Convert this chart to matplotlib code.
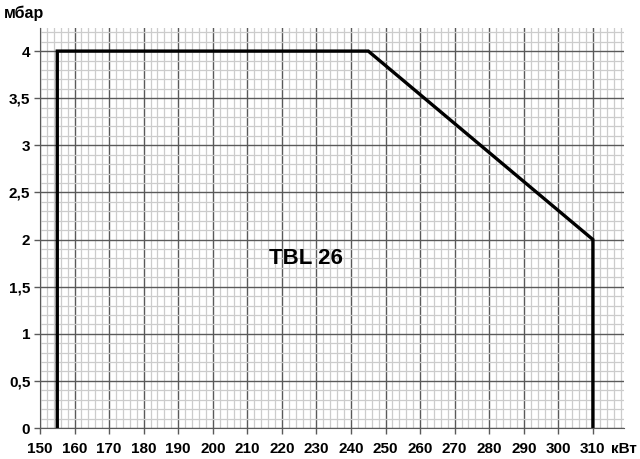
import matplotlib.pyplot as plt
from matplotlib.ticker import MultipleLocator, FuncFormatter

plt.rcParams['font.family'] = ['Liberation Sans', 'DejaVu Sans']

# Outline of the working field
power_kw = [155, 155, 245, 310, 310]
pressure_mbar = [0, 4, 4, 2, 0]

x_ticks = list(range(150, 311, 10))
y_ticks = [0, 0.5, 1, 1.5, 2, 2.5, 3, 3.5, 4]

fig = plt.figure(figsize=(6.4, 4.59), dpi=100)
ax = fig.add_axes([0.0625, 0.0675, 0.9125, 0.8725])

ax.plot(power_kw, pressure_mbar, color='black', linewidth=2.4, solid_joinstyle='miter')

ax.set_xlim(150, 319)
ax.set_ylim(0, 4.25)
ax.set_xticks(x_ticks)
ax.set_yticks(y_ticks)
ax.xaxis.set_minor_locator(MultipleLocator(2))
ax.yaxis.set_minor_locator(MultipleLocator(0.1))
ax.yaxis.set_major_formatter(FuncFormatter(lambda v, p: ('%g' % v).replace('.', ',')))

ax.grid(True, which='minor', color='#cccccc', linewidth=0.9)
ax.grid(True, which='major', color='#5a5a5a', linewidth=1.0)
ax.set_axisbelow(True)

for s in ['top', 'right']:
    ax.spines[s].set_visible(False)
ax.spines['left'].set_color('#5a5a5a')
ax.spines['bottom'].set_color('#5a5a5a')

ax.tick_params(which='major', length=4, width=1, color='#5a5a5a', labelsize=11, pad=3)
ax.tick_params(which='minor', length=0)
for lab in ax.get_xticklabels() + ax.get_yticklabels():
    lab.set_fontweight('bold')
ax.tick_params(axis='x', pad=6)

ax.text(227, 1.8, 'TBL 26', fontsize=16, fontweight='bold', ha='center', va='center')
fig.text(0.006, 0.972, 'мбар', fontsize=11.5, fontweight='bold', ha='left', va='center')
fig.text(0.975, 0.022, 'кВт', fontsize=11, fontweight='bold', ha='center', va='center')

fig.savefig('out.png', dpi=100)
